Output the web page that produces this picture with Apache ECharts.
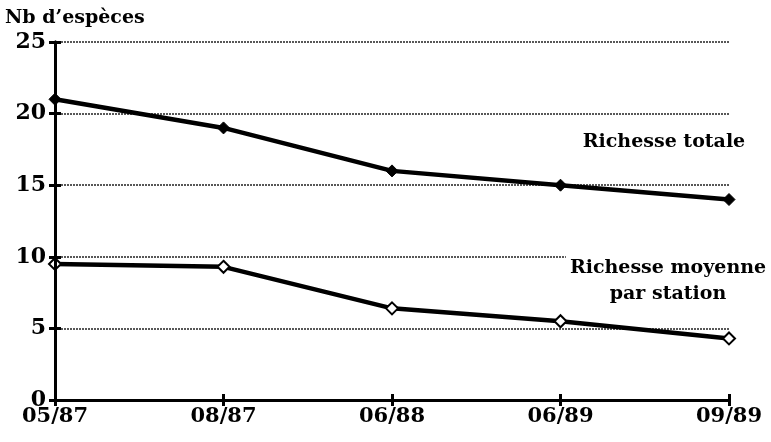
<!DOCTYPE html>
<html>
<head>
<meta charset="utf-8">
<script src="https://cdn.jsdelivr.net/npm/echarts@6/dist/echarts.min.js"></script>
<style>
  html, body { margin: 0; padding: 0; background: #fff; }
  #chart { width: 771px; height: 442px; }
</style>
</head>
<body>
<div id="chart"></div>
<script>
const dates = ['05/87', '08/87', '06/88', '06/89', '09/89'];
const richesseTotale = [21, 19, 16, 15, 14];
const richesseMoyenne = [9.5, 9.3, 6.4, 5.5, 4.3];

const font = 'DejaVu Serif';

const chart = echarts.init(document.getElementById('chart'), null, { renderer: 'canvas' });

// the printed ticks cross the axis: a second axis draws the inner half
const innerTick = { show: true, length: 6, inside: true, lineStyle: { color: '#000', width: 3 } };

chart.setOption({
  animation: false,
  backgroundColor: '#fff',
  grid: { left: 55, right: 42, top: 42, bottom: 42 },
  xAxis: [{
    type: 'category',
    data: dates,
    boundaryGap: false,
    axisLine: { lineStyle: { color: '#000', width: 3 } },
    axisTick: { show: true, length: 6, inside: false, lineStyle: { color: '#000', width: 3 } },
    axisLabel: { color: '#000', fontFamily: font, fontWeight: 'bold', fontSize: 21, margin: 6 },
    splitLine: { show: false }
  }, {
    type: 'category',
    data: dates,
    boundaryGap: false,
    position: 'bottom',
    offset: 0,
    show: true,
    axisLine: { show: true, lineStyle: { color: '#000', width: 3 } },
    axisTick: innerTick,
    axisLabel: { show: false },
    splitLine: { show: false },
    z: 10
  }],
  yAxis: [{
    type: 'value',
    min: 0,
    max: 25,
    interval: 5,
    name: 'Nb d\u2019esp\u00e8ces',
    nameLocation: 'end',
    nameGap: 14,
    nameTextStyle: { color: '#000', fontFamily: font, fontWeight: 'bold', fontSize: 19, align: 'left', padding: [0, 0, 0, -50] },
    axisLine: { show: true, lineStyle: { color: '#000', width: 3 } },
    axisTick: { show: true, length: 6, lineStyle: { color: '#000', width: 3 } },
    axisLabel: { color: '#000', fontFamily: font, fontWeight: 'bold', fontSize: 22, margin: 9 },
    splitLine: { show: true, lineStyle: { color: '#222', width: 1.5, type: [2, 1] } }
  }, {
    type: 'value',
    min: 0,
    max: 25,
    interval: 5,
    position: 'left',
    offset: 0,
    show: true,
    axisLine: { show: true, lineStyle: { color: '#000', width: 3 } },
    axisTick: innerTick,
    axisLabel: { show: false },
    splitLine: { show: false },
    z: 10
  }],
  series: [{
    name: 'Richesse totale',
    type: 'line',
    data: richesseTotale,
    symbol: 'diamond',
    symbolSize: 12,
    lineStyle: { color: '#000', width: 4.5 },
    itemStyle: { color: '#000', borderColor: '#000', borderWidth: 1 },
    z: 5
  }, {
    name: 'Richesse moyenne par station',
    type: 'line',
    data: richesseMoyenne,
    symbol: 'diamond',
    symbolSize: 12,
    lineStyle: { color: '#000', width: 4.5 },
    itemStyle: { color: '#fff', borderColor: '#000', borderWidth: 2 },
    z: 5
  }],
  graphic: [{
    type: 'text',
    x: 664,
    y: 133,
    style: {
      text: 'Richesse totale',
      fill: '#000',
      align: 'center',
      font: 'bold 19px "DejaVu Serif"'
    }
  }, {
    type: 'text',
    x: 667,
    y: 255,
    z: 10,
    style: {
      text: 'Richesse moyenne\npar station',
      fill: '#000',
      align: 'center',
      lineHeight: 26,
      backgroundColor: '#fff',
      padding: [0, 2, 0, 4],
      font: 'bold 19px "DejaVu Serif"'
    }
  }]
});
</script>
</body>
</html>
